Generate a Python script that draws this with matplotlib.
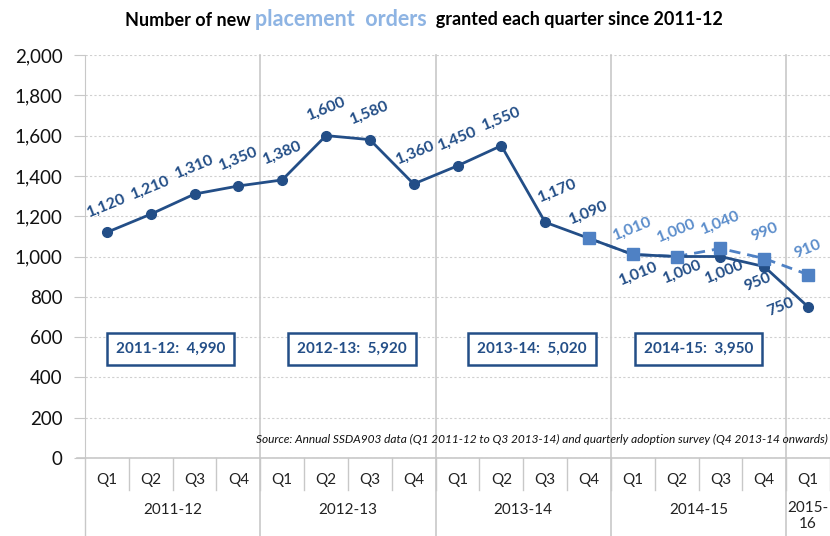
import matplotlib
matplotlib.use("Agg")
import matplotlib.pyplot as plt
from matplotlib.offsetbox import TextArea, HPacker, AnchoredOffsetbox
from matplotlib.lines import Line2D

# ---------------- data ----------------
quarters = ["Q1", "Q2", "Q3", "Q4"] * 4 + ["Q1"]
years = ["2011-12", "2012-13", "2013-14", "2014-15", "2015-\n16"]
year_sizes = [4, 4, 4, 4, 1]
main_values = [1120, 1210, 1310, 1350, 1380, 1600, 1580, 1360, 1450, 1550,
               1170, 1090, 1010, 1000, 1000, 950, 750]
revised_start = 11
revised_values = [1090, 1010, 1000, 1040, 990, 910]
annual_labels = ["2011-12:  4,990", "2012-13:  5,920", "2013-14:  5,020", "2014-15:  3,950"]
yticks = [0, 200, 400, 600, 800, 1000, 1200, 1400, 1600, 1800, 2000]
source_text = ("Source: Annual SSDA903 data (Q1 2011-12 to Q3 2013-14) and "
               "quarterly adoption survey (Q4 2013-14 onwards)")

# ---------------- style ----------------
DARK = "#234E87"
LIGHT = "#4F81C4"
LIGHT_TXT = "#5B8DCB"
TITLE_BLUE = "#8EB4E3"
GRID = "#D0D0D0"
SEP = "#C8C8C8"
FONT = "Lato"

plt.rcParams['font.family'] = [FONT, 'DejaVu Sans']

fig = plt.figure(figsize=(8.3, 5.36), dpi=100)
ax = fig.add_axes([85 / 830, 78 / 536, 745 / 830, 403 / 536])

n = len(main_values)
xs = list(range(n))
rx = list(range(revised_start, revised_start + len(revised_values)))

# revised (dashed) series line under the main line
ax.plot(rx, revised_values, color=LIGHT, lw=2, ls=(0, (4, 2.5)), zorder=3)
ax.plot(xs, main_values, color=DARK, lw=2, marker='o', ms=7, zorder=4)
ax.plot(rx, revised_values, color=LIGHT, lw=0, marker='s', ms=8, zorder=5)

ax.set_xlim(-0.5, n - 0.5)
ax.set_ylim(0, 2000)
ax.set_yticks(yticks)
ax.set_yticklabels([f"{v:,}" for v in yticks], fontsize=13.5, color="#111111")
ax.tick_params(axis='y', length=8, color=SEP, pad=8)
ax.set_xticks([])
for s in ['top', 'right']:
    ax.spines[s].set_visible(False)
ax.spines['left'].set_color(SEP)
ax.spines['bottom'].set_visible(False)
ax.yaxis.grid(True, color=GRID, ls=(0, (2, 2)), lw=0.8)
ax.set_axisbelow(True)

trans = ax.get_xaxis_transform()
# x-axis line (extends left like a tick)
ax.add_line(Line2D([-0.5 - 8 / 43.8, n - 0.5], [0, 0], transform=trans,
                   color=SEP, lw=1.2, clip_on=False, zorder=2))
# left spine extension to the bottom
ax.add_line(Line2D([-0.5, -0.5], [0, -78 / 403], transform=trans,
                   color=SEP, lw=1, clip_on=False))
# quarter separators
for k in range(n):
    ax.add_line(Line2D([k + 0.5, k + 0.5], [0, -32 / 403], transform=trans,
                       color=SEP, lw=1, clip_on=False))
# year separators
pos = 0
for sz in year_sizes[:-1]:
    pos += sz
    ax.add_line(Line2D([pos - 0.5, pos - 0.5], [1, -78 / 403], transform=trans,
                       color=SEP, lw=1.2, clip_on=False, zorder=1))
# quarter labels
for k, q in enumerate(quarters):
    ax.text(k, -22 / 403, q, transform=trans, ha='center', va='center',
            fontsize=11, color="#222222")
# year labels
pos = 0
for y, sz in zip(years, year_sizes):
    c = pos + (sz - 1) / 2
    if "\n" in y:
        ax.text(c, -43 / 403, y, transform=trans, ha='center', va='top',
                fontsize=11, color="#222222", linespacing=1.15)
    else:
        ax.text(c, -52 / 403, y, transform=trans, ha='center', va='center',
                fontsize=11, color="#222222")
    pos += sz

# data labels
ROT = 22
LFS = 11.5
main_off = [(0, 27)] * 11 + [(0, 26)] + [(6, -19), (6, -15), (4, -15), (-7, -16), (-27, 0)]
main_off[10] = (12, 32)
main_off[7] = (2, 31)
for i, (v, off) in enumerate(zip(main_values, main_off)):
    if i == revised_start:
        continue  # labelled by revised series
    ax.annotate(f"{v:,}", (i, v), xytext=off, textcoords='offset pixels',
                ha='center', va='center', rotation=ROT, fontsize=LFS,
                fontweight='bold', color=DARK, zorder=6)
# Q4 2013-14 label is dark in the reference
ax.annotate(f"{revised_values[0]:,}", (rx[0], revised_values[0]), xytext=(0, 26),
            textcoords='offset pixels', ha='center', va='center', rotation=ROT,
            fontsize=LFS, fontweight='bold', color=DARK, zorder=6)
for x, v in zip(rx[1:], revised_values[1:]):
    ax.annotate(f"{v:,}", (x, v), xytext=(0, 26), textcoords='offset pixels',
                ha='center', va='center', rotation=ROT, fontsize=LFS,
                fontweight='bold', color=LIGHT_TXT, zorder=6)

# annual total boxes
box_x = [1.45, 5.6, 9.7, 13.5]
for bx, lab in zip(box_x, annual_labels):
    ax.text(bx, 540, lab, ha='center', va='center', fontsize=11,
            fontweight='bold', color=DARK, zorder=6,
            bbox=dict(boxstyle='square,pad=0.6', fc='white', ec=DARK, lw=1.8))

# source note
ax.text(n - 0.55, 90, source_text, ha='right', va='center', fontsize=8.6,
        style='italic', color="#111111")

# title
t1 = TextArea("Number of new ", textprops=dict(fontsize=13, fontweight='bold', color='black'))
t2 = TextArea("placement  orders", textprops=dict(fontsize=15.5, fontweight='bold', color=TITLE_BLUE))
t3 = TextArea("  granted each quarter since 2011-12", textprops=dict(fontsize=13, fontweight='bold', color='black'))
hp = HPacker(children=[t1, t2, t3], align='baseline', pad=0, sep=0)
ab = AnchoredOffsetbox(loc='center', child=hp, frameon=False,
                       bbox_to_anchor=(424 / 830, 1 - 19 / 536),
                       bbox_transform=fig.transFigure, pad=0, borderpad=0)
fig.add_artist(ab)

fig.savefig("out.png", dpi=100)
